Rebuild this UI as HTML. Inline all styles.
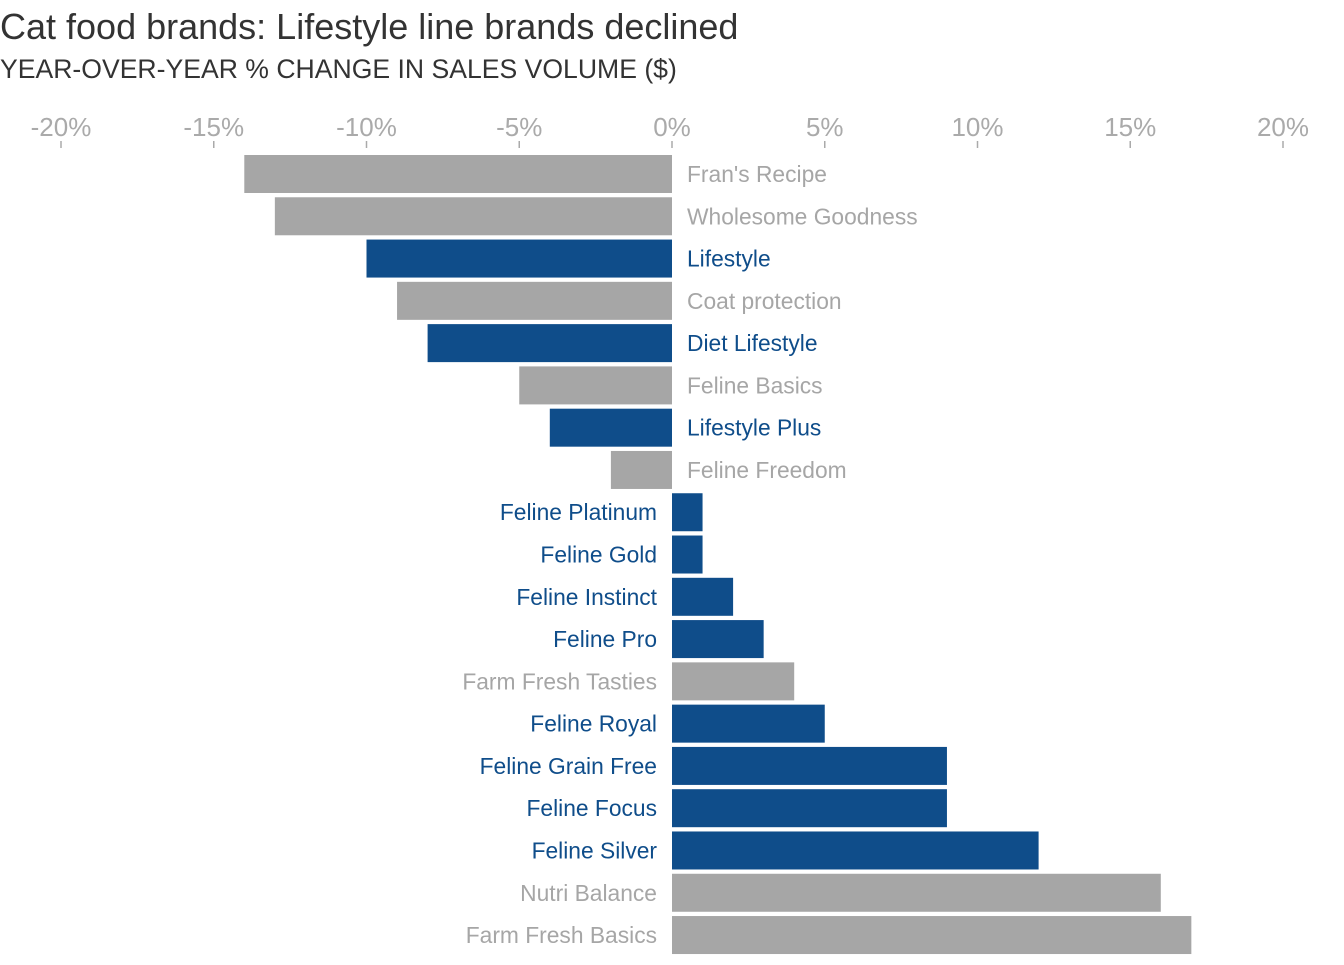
<!DOCTYPE html>
<html><head><meta charset="utf-8">
<style>
body{margin:0;background:#fff;font-family:"Liberation Sans",sans-serif;}
svg text{font-family:"Liberation Sans",sans-serif;}
</style></head>
<body>
<svg width="1344" height="960">
<text x="0" y="39" font-size="36" fill="#333">Cat food brands: Lifestyle line brands declined</text>
<text x="0" y="78" font-size="26.6" fill="#333">YEAR-OVER-YEAR % CHANGE IN SALES VOLUME ($)</text>
<g id="axis"></g>
<g id="bars"></g>
</svg>
<script>
const brands=["Fran's Recipe","Wholesome Goodness","Lifestyle","Coat protection","Diet Lifestyle","Feline Basics","Lifestyle Plus","Feline Freedom","Feline Platinum","Feline Gold","Feline Instinct","Feline Pro","Farm Fresh Tasties","Feline Royal","Feline Grain Free","Feline Focus","Feline Silver","Nutri Balance","Farm Fresh Basics"];
const changes=[-14,-13,-10,-9,-8,-5,-4,-2,1,1,2,3,4,5,9,9,12,16,17];
const highlighted=[0,0,1,0,1,0,1,0,1,1,1,1,0,1,1,1,1,0,0];
const ticks=[-20,-15,-10,-5,0,5,10,15,20];
const NS="http://www.w3.org/2000/svg";
const x=v=>672+v*30.55;
const y=i=>155+i*42.28;
const bh=38;
const ax=document.getElementById('axis'),bg=document.getElementById('bars');
function mk(tag,attrs,parent){const e=document.createElementNS(NS,tag);for(const k in attrs)e.setAttribute(k,attrs[k]);parent.appendChild(e);return e;}
ticks.forEach(t=>{
  const l=mk('line',{x1:x(t),x2:x(t),y1:141,y2:148,stroke:'#aaa','stroke-width':1.5},ax);
  
  
  const tx=mk('text',{x:x(t),y:136,'text-anchor':'middle','font-size':26,fill:'#aaa'},ax);
  tx.textContent=t+'%';
  
  
});
brands.forEach((b,i)=>{
  const v=changes[i],c=highlighted[i]?'#0f4d8a':'#a6a6a6';
  const r=mk('rect',{x:Math.min(x(0),x(v)),y:y(i),width:Math.abs(x(v)-x(0)),height:bh,fill:c},bg);
  
  
  const neg=v<0;
  const t=mk('text',{x:neg?687:657,y:y(i)+bh/2+8,'text-anchor':neg?'start':'end','font-size':22.8,fill:c},bg);
  t.textContent=b;
  
  
});
</script>
</body></html>
